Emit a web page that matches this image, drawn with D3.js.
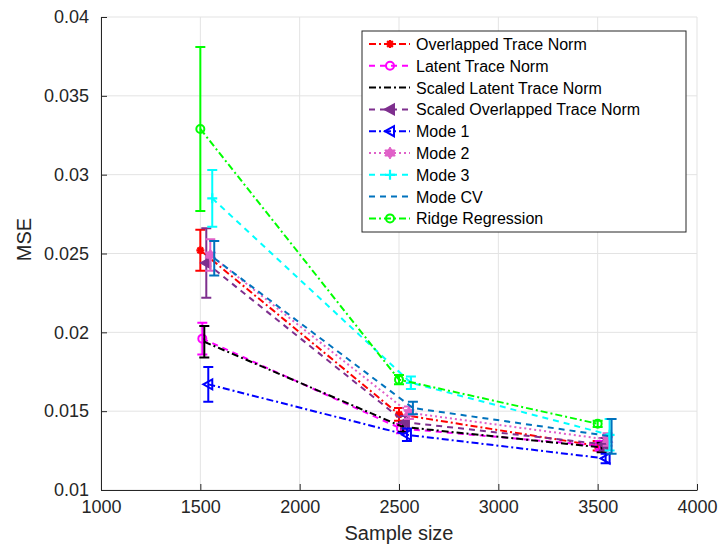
<!DOCTYPE html>
<html>
<head>
<meta charset="utf-8">
<script src="https://cdn.jsdelivr.net/npm/d3@7"></script>
<style>
  html, body { margin: 0; padding: 0; background: #fff; }
  svg { display: block; font-family: "Liberation Sans", Arial, sans-serif; }
</style>
</head>
<body>
<div id="chart"></div>
<script>
// Data
const seriesNames = [
  "Overlapped Trace Norm", "Latent Trace Norm", "Scaled Latent Trace Norm",
  "Scaled Overlapped Trace Norm", "Mode 1", "Mode 2", "Mode 3", "Mode CV", "Ridge Regression"
];
// x positions (slightly shifted per method so the error bars don't overlap)
const sampleX = [
  [1500, 2500, 3500],
  [1510, 2510, 3510],
  [1520, 2520, 3520],
  [1530, 2530, 3530],
  [1540, 2540, 3540],
  [1550, 2550, 3550],
  [1560, 2560, 3560],
  [1570, 2570, 3570],
  [1500, 2500, 3500]
];
const mseMean = [
  [0.0252, 0.0148, 0.0128],
  [0.0196, 0.0139, 0.0128],
  [0.0194, 0.0140, 0.0127],
  [0.0244, 0.0143, 0.0129],
  [0.0167, 0.0135, 0.0120],
  [0.0249, 0.0149, 0.0132],
  [0.0285, 0.0168, 0.0135],
  [0.0247, 0.0152, 0.0134],
  [0.0329, 0.0170, 0.0142]
];
const mseErr = [
  [0.0013, 0.0004, 0.0003],
  [0.0010, 0.0003, 0.0003],
  [0.0010, 0.0003, 0.0003],
  [0.0022, 0.0004, 0.0004],
  [0.0011, 0.0004, 0.0003],
  [0.0010, 0.0004, 0.0004],
  [0.0018, 0.0004, 0.0010],
  [0.0011, 0.0004, 0.0011],
  [0.0052, 0.0003, 0.0002]
];
const xTicks = [1000, 1500, 2000, 2500, 3000, 3500, 4000];
const yTicks = [0.01, 0.015, 0.02, 0.025, 0.03, 0.035, 0.04];

// Styles (MATLAB-like)
const colors = ["#ff0000", "#ff00ff", "#000000", "#7e2f8e", "#0000ff", "#e060c8", "#00ffff", "#0072bd", "#00ff00"];
const dashes = ["7,3,2,3", "6,5", "7,3,2,3", "6,5", "7,3,2,3", "2,3", "6,5", "6,5", "7,3,2,3"];
const markers = ["star", "circle", "none", "triLeftFill", "triLeft", "hexagram", "plus", "none", "circle"];

const W = 718, H = 546;
const plot = { left: 101, right: 697, top: 17, bottom: 490 };

const x = d3.scaleLinear().domain([1000, 4000]).range([plot.left, plot.right]);
const y = d3.scaleLinear().domain([0.01, 0.04]).range([plot.bottom, plot.top]);

const svg = d3.select("#chart").append("svg")
  .attr("width", W).attr("height", H);

// grid
const grid = svg.append("g").attr("stroke", "#e3e3e3").attr("stroke-width", 1);
grid.selectAll("line.gx").data(xTicks).join("line")
  .attr("x1", d => x(d)).attr("x2", d => x(d))
  .attr("y1", plot.top).attr("y2", plot.bottom);
grid.selectAll("line.gy").data(yTicks).join("line")
  .attr("x1", plot.left).attr("x2", plot.right)
  .attr("y1", d => y(d)).attr("y2", d => y(d));

// axes
const axisColor = "#262626";
const xAxis = svg.append("g")
  .attr("transform", `translate(0,${plot.bottom})`)
  .call(d3.axisBottom(x).tickValues(xTicks).tickSizeInner(-6).tickSizeOuter(0).tickPadding(10).tickFormat(d3.format("d")));
const yAxis = svg.append("g")
  .attr("transform", `translate(${plot.left},0)`)
  .call(d3.axisLeft(y).tickValues(yTicks).tickSizeInner(-6).tickSizeOuter(0).tickPadding(12).tickFormat(d => String(+d.toFixed(3))));
[xAxis, yAxis].forEach(a => {
  a.select(".domain").attr("stroke", axisColor);
  a.selectAll(".tick line").attr("stroke", axisColor);
  a.selectAll(".tick text").attr("fill", axisColor).attr("font-size", 18)
    .attr("font-family", "'Liberation Sans', Arial, sans-serif");
});

svg.append("text")
  .attr("x", x(2500)).attr("y", 540)
  .attr("text-anchor", "middle").attr("font-size", 20).attr("fill", axisColor)
  .text("Sample size");
svg.append("text")
  .attr("transform", `translate(31,${(plot.top + plot.bottom) / 2 - 14}) rotate(-90)`)
  .attr("text-anchor", "middle").attr("font-size", 20).attr("fill", axisColor)
  .text("MSE");

// marker drawing
function drawMarker(g, type, color, cx, cy) {
  const s = 4;
  if (type === "none") return;
  if (type === "star") {
    const a = s * 0.72;
    g.append("path")
      .attr("d", `M${cx - s},${cy}H${cx + s}M${cx},${cy - s}V${cy + s}M${cx - a},${cy - a}L${cx + a},${cy + a}M${cx - a},${cy + a}L${cx + a},${cy - a}`)
      .attr("stroke", color).attr("stroke-width", 2.2).attr("fill", "none");
  } else if (type === "circle") {
    g.append("circle").attr("cx", cx).attr("cy", cy).attr("r", s)
      .attr("stroke", color).attr("stroke-width", 2).attr("fill", "none");
  } else if (type === "triLeft" || type === "triLeftFill") {
    g.append("path")
      .attr("d", `M${cx - s - 1},${cy}L${cx + s},${cy - s - 1}L${cx + s},${cy + s + 1}Z`)
      .attr("stroke", color).attr("stroke-width", 2)
      .attr("fill", type === "triLeftFill" ? color : "none");
  } else if (type === "plus") {
    g.append("path")
      .attr("d", `M${cx - s - 1},${cy}H${cx + s + 1}M${cx},${cy - s - 1}V${cy + s + 1}`)
      .attr("stroke", color).attr("stroke-width", 2.2).attr("fill", "none");
  } else if (type === "hexagram") {
    const r = s + 2;
    const pts = d3.range(12).map(k => {
      const ang = -Math.PI / 2 + k * Math.PI / 6;
      const rr = k % 2 === 0 ? r : r * 0.58;
      return [cx + rr * Math.cos(ang), cy + rr * Math.sin(ang)];
    });
    g.append("path").attr("d", "M" + pts.join("L") + "Z")
      .attr("stroke", color).attr("stroke-width", 1).attr("fill", color);
  }
}

// series
const line = d3.line().x(d => x(d.x)).y(d => y(d.y));
const cap = 5;
seriesNames.forEach((name, i) => {
  const pts = sampleX[i].map((sx, j) => ({ x: sx, y: mseMean[i][j], e: mseErr[i][j] }));
  const g = svg.append("g");
  g.append("path").datum(pts).attr("d", line)
    .attr("fill", "none").attr("stroke", colors[i]).attr("stroke-width", 2)
    .attr("stroke-dasharray", dashes[i]);
  pts.forEach(p => {
    const px = x(p.x), y1 = y(p.y - p.e), y2 = y(p.y + p.e);
    g.append("path")
      .attr("d", `M${px},${y1}V${y2}M${px - cap},${y1}H${px + cap}M${px - cap},${y2}H${px + cap}`)
      .attr("stroke", colors[i]).attr("stroke-width", 2).attr("fill", "none");
    drawMarker(g, markers[i], colors[i], px, y(p.y));
  });
});

// legend
const lg = svg.append("g");
const lx = 362, ly = 31, lw = 324, lh = 201, rowH = 21.8;
lg.append("rect").attr("x", lx).attr("y", ly).attr("width", lw).attr("height", lh)
  .attr("fill", "#fff").attr("stroke", "#262626").attr("stroke-width", 1);
seriesNames.forEach((name, i) => {
  const cy = ly + 13 + i * rowH;
  lg.append("line").attr("x1", lx + 7).attr("x2", lx + 48)
    .attr("y1", cy).attr("y2", cy)
    .attr("stroke", colors[i]).attr("stroke-width", 2).attr("stroke-dasharray", dashes[i]);
  drawMarker(lg, markers[i], colors[i], lx + 28, cy);
  lg.append("text").attr("x", lx + 54).attr("y", cy + 6)
    .attr("font-size", 16).attr("fill", "#000").text(name);
});
</script>
</body>
</html>
